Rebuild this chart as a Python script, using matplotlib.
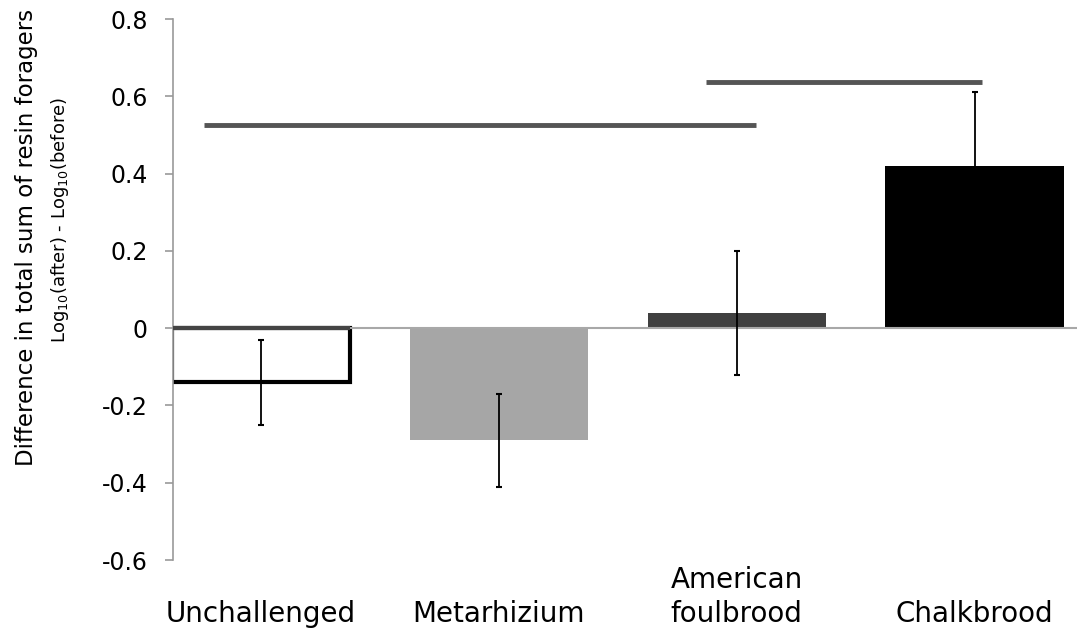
import numpy as np
import matplotlib
matplotlib.use('Agg')
import matplotlib.pyplot as plt
from matplotlib.transforms import blended_transform_factory

# Data
groups = ['Unchallenged', 'Metarhizium', 'American\nfoulbrood', 'Chalkbrood']
means = [-0.14, -0.29, 0.04, 0.42]
errors = [0.11, 0.12, 0.16, 0.19]
fill_colors = ['white', '#a6a6a6', '#404040', '#000000']
edge_colors = ['black', '#a6a6a6', '#404040', '#000000']

# significance bars: (x start, x end, y) in category units
sig_x_start = [-0.24, 1.87]
sig_x_end = [2.08, 3.03]
sig_y = [0.525, 0.636]

x = np.arange(len(groups))

fig = plt.figure(figsize=(10.77, 6.39), dpi=100)
ax = fig.add_axes([0.1606, 0.1236, 0.8394, 0.8466])

bars = ax.bar(x, means, width=0.75, color=fill_colors, edgecolor=edge_colors,
              linewidth=[3, 0, 0, 0], zorder=2)
ax.errorbar(x, means, yerr=errors, fmt='none', ecolor='#000000', elinewidth=1.3,
            capsize=2.5, capthick=1.5, zorder=4)

# zero line on top of bars
ax.axhline(0, color='#a8a8a8', lw=1.5, zorder=3)
# thick dark top edge of the open bar, as in the original
ax.plot([x[0] - 0.375, x[0] + 0.375], [0, 0], color='#444444', lw=3, zorder=3.5,
        solid_capstyle='butt')

for x0, x1, y in zip(sig_x_start, sig_x_end, sig_y):
    ax.plot([x0, x1], [y, y], color='#555555', lw=3.5, solid_capstyle='butt', zorder=3)

ax.set_xlim(-0.37, 3.43)
ax.set_ylim(-0.6, 0.8)
ax.set_yticks(np.arange(-0.6, 0.81, 0.2))
ax.set_yticklabels(['-0.6', '-0.4', '-0.2', '0', '0.2', '0.4', '0.6', '0.8'], fontsize=17)
ax.tick_params(axis='y', direction='out', length=6, color='#999999', width=1.2, pad=12)

ax.set_xticks([])
for s in ['top', 'right', 'bottom']:
    ax.spines[s].set_visible(False)
ax.spines['left'].set_color('#999999')
ax.spines['left'].set_linewidth(1.2)

# category labels below the axis, bottom-aligned
trans = blended_transform_factory(ax.transData, fig.transFigure)
for xi, lab in zip(x, groups):
    ax.text(xi, 1 - 622 / 639, lab, transform=trans, ha='center', va='baseline',
            fontsize=20, linespacing=1.25)

# two-line y label
fig.text(27 / 1077, 1 - 237 / 639, 'Difference in total sum of resin foragers',
         rotation=90, ha='center', va='center', fontsize=16.5)
fig.text(60 / 1077, 1 - 220 / 639, r'Log$_{10}$(after) - Log$_{10}$(before)',
         rotation=90, ha='center', va='center', fontsize=13)

fig.savefig('out.png', dpi=100, facecolor='white')
